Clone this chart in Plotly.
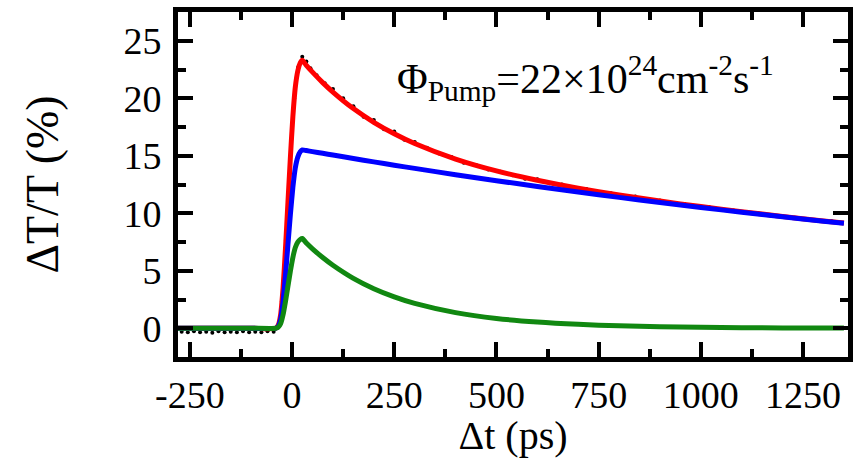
import plotly.graph_objects as go

# Delay times (ps) for the fitted curves
t_fit = [-279, -200, -100, -40, -34, -28, -22, -16, -10, -4, 2, 8, 14, 20, 25, 35, 50, 75,
         100, 150, 200, 250, 300, 400, 500, 600, 700, 800, 900, 1000, 1100, 1200, 1300, 1350]

# Total fit (red)
total_fit = [0, 0, 0, 0, 0.24, 1.17, 3.50, 6.99, 10.96, 14.91, 18.41, 20.97, 22.37, 23.07, 23.3,
             22.86, 22.27, 21.36, 20.54, 19.10, 17.91, 16.91, 16.06, 14.71, 13.68, 12.87, 12.18,
             11.59, 11.06, 10.58, 10.14, 9.72, 9.33, 9.15]

# Slow component (blue)
slow_fit = [0, 0, 0, 0, 0.16, 0.78, 2.33, 4.65, 7.29, 9.92, 12.25, 13.95, 14.88, 15.35, 15.5,
            15.45, 15.36, 15.21, 15.06, 14.76, 14.47, 14.18, 13.90, 13.35, 12.83, 12.33, 11.84,
            11.38, 10.93, 10.50, 10.09, 9.69, 9.31, 9.13]

# Fast component (green)
fast_fit = [0, 0, 0, 0, 0.08, 0.39, 1.17, 2.34, 3.67, 4.99, 6.16, 7.02, 7.49, 7.72, 7.8,
            7.41, 6.91, 6.15, 5.48, 4.34, 3.44, 2.73, 2.16, 1.36, 0.85, 0.54, 0.34,
            0.21, 0.13, 0.08, 0.05, 0.03, 0.02, 0.02]

# Measured data (black dots)
t_data = [-270, -255, -240, -225, -210, -195, -180, -165, -150, -135, -120, -105, -90, -75, -60,
          -45, -35, -25, -15, -5, 5, 15, 25, 35, 45, 60, 80, 100, 125, 150, 175, 200, 225, 250,
          275, 300, 330, 360, 390, 420, 450, 480, 510, 540, 570, 600, 630, 660, 690, 720, 750,
          780, 810, 840, 870, 900, 930, 960, 990, 1020, 1050, 1080, 1110, 1140, 1170, 1200,
          1230, 1260, 1290, 1320, 1345]
v_data = [-0.3, -0.35, -0.25, -0.35, -0.3, -0.4, -0.25, -0.35, -0.3, -0.35, -0.25, -0.35, -0.3,
          -0.35, -0.25, -0.3, 0.1, 2.3, 7.6, 14.4, 20.0, 22.7, 23.6, 23.2, 22.6, 22.0, 21.3,
          20.8, 20.0, 19.3, 18.4, 18.1, 17.3, 17.1, 16.4, 16.2, 15.7, 15.2, 14.9, 14.4, 14.2,
          13.8, 13.6, 13.3, 13.0, 12.95, 12.6, 12.5, 12.2, 12.1, 11.8, 11.75, 11.5, 11.45, 11.2,
          11.1, 10.9, 10.8, 10.6, 10.55, 10.3, 10.25, 10.05, 10.0, 9.8, 9.75, 9.6, 9.5, 9.35,
          9.3, 9.15]

x_ticks = [-250, 0, 250, 500, 750, 1000, 1250]
y_ticks = [0, 5, 10, 15, 20, 25]

FONT = "Liberation Serif"

fig = go.Figure()
fig.add_trace(go.Scatter(x=t_data, y=v_data, mode="markers",
                         marker=dict(color="black", size=4), showlegend=False))
fig.add_trace(go.Scatter(x=t_fit, y=total_fit, mode="lines", line=dict(color="#ff0000", width=5, shape="spline", smoothing=0.6), showlegend=False))
fig.add_trace(go.Scatter(x=t_fit, y=slow_fit, mode="lines", line=dict(color="#0000ff", width=5, shape="spline", smoothing=0.6), showlegend=False))
fig.add_trace(go.Scatter(x=t_fit, y=fast_fit, mode="lines", line=dict(color="#118811", width=5, shape="spline", smoothing=0.6), showlegend=False))

axis_common = dict(showline=True, linecolor="black", linewidth=5, mirror="ticks",
                   ticks="inside", ticklen=15, tickwidth=4, tickcolor="black",
                   showgrid=False, zeroline=False, automargin=False,
                   tickfont=dict(family=FONT, size=38, color="black"))

fig.update_xaxes(range=[-279, 1360], tickvals=x_ticks, ticktext=[str(v) for v in x_ticks],
                 minor=dict(ticks="inside", ticklen=8, tickwidth=4, tickcolor="black",
                            tickvals=[-125, 125, 375, 625, 875, 1125]),
                 title=dict(text="Δt (ps)", font=dict(family=FONT, size=40, color="black"), standoff=6),
                 **axis_common)
fig.update_yaxes(range=[-2.5, 27.5], tickvals=y_ticks, ticktext=[str(v) for v in y_ticks],
                 ticklabelstandoff=4,
                 minor=dict(ticks="inside", ticklen=8, tickwidth=4, tickcolor="black",
                            tickvals=[2.5, 7.5, 12.5, 17.5, 22.5]),
                 title=dict(text="ΔT/T (%)", font=dict(family=FONT, size=46, color="black"), standoff=52),
                 **axis_common)

fig.add_annotation(xref="paper", yref="paper", x=0.324, y=0.81, xanchor="left", yanchor="middle",
                   showarrow=False,
                   text="Φ<sub>Pump</sub>=22×10<sup>24</sup>cm<sup>-2</sup>s<sup>-1</sup>",
                   font=dict(family=FONT, size=42, color="black"))

fig.update_layout(width=858, height=458, margin=dict(l=178, r=10, t=12, b=101),
                  plot_bgcolor="white", paper_bgcolor="white")

fig.write_html("out.html")
